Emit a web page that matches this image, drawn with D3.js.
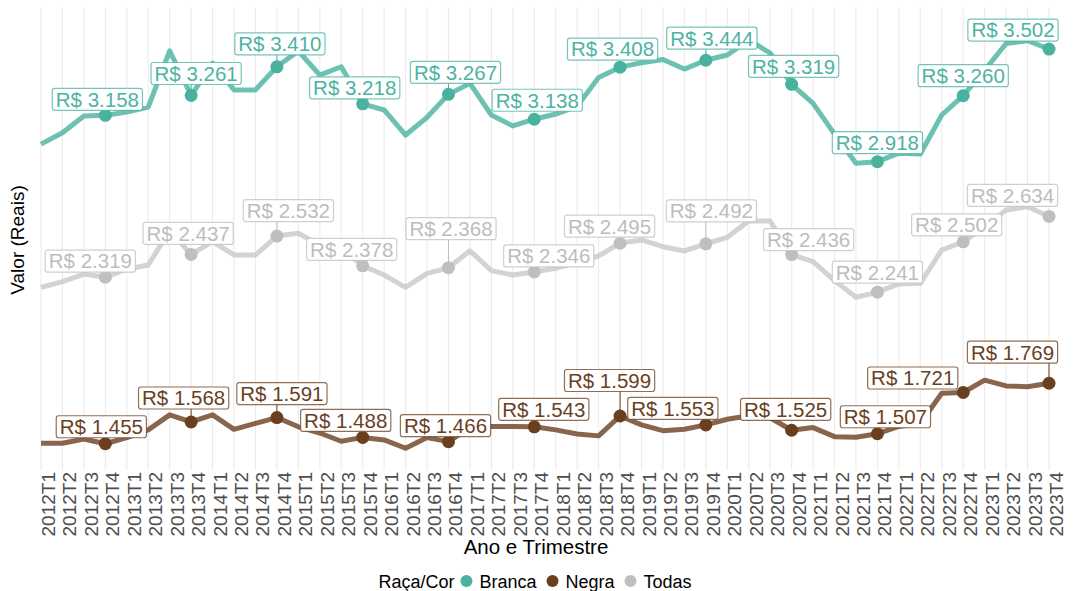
<!DOCTYPE html>
<html>
<head>
<meta charset="utf-8">
<script src="https://cdn.jsdelivr.net/npm/d3@7"></script>
<style>
  body { margin: 0; background: #fff; }
  svg { font-family: "Liberation Sans", Arial, sans-serif; display: block; }
</style>
</head>
<body>
<div id="chart"></div>
<script>
// quarters on the x axis
const quarters = [
  "2012T1","2012T2","2012T3","2012T4","2013T1","2013T2","2013T3","2013T4",
  "2014T1","2014T2","2014T3","2014T4","2015T1","2015T2","2015T3","2015T4",
  "2016T1","2016T2","2016T3","2016T4","2017T1","2017T2","2017T3","2017T4",
  "2018T1","2018T2","2018T3","2018T4","2019T1","2019T2","2019T3","2019T4",
  "2020T1","2020T2","2020T3","2020T4","2021T1","2021T2","2021T3","2021T4",
  "2022T1","2022T2","2022T3","2022T4","2023T1","2023T2","2023T3","2023T4"
]

// rendimento medio (R$) por raça/cor
const branca = [
  3009, 3068, 3155, 3158, 3175, 3201, 3493, 3261,
  3429, 3290, 3290, 3410, 3492, 3367, 3410, 3218,
  3186, 3056, 3148, 3267, 3324, 3160, 3103, 3138,
  3165, 3205, 3355, 3408, 3431, 3448, 3398, 3444,
  3471, 3549, 3481, 3319, 3220, 3061, 2910, 2918,
  2962, 2958, 3160, 3260, 3392, 3531, 3545, 3502
]
const negra = [
  1458, 1458, 1480, 1455, 1487, 1527, 1605, 1568,
  1605, 1530, 1561, 1591, 1543, 1511, 1468, 1488,
  1475, 1432, 1487, 1466, 1540, 1544, 1544, 1543,
  1527, 1506, 1496, 1599, 1553, 1523, 1530, 1553,
  1582, 1600, 1590, 1525, 1539, 1492, 1489, 1507,
  1545, 1560, 1717, 1721, 1785, 1755, 1751, 1769
]
const todas = [
  2266, 2296, 2335, 2319, 2360, 2382, 2560, 2437,
  2503, 2434, 2434, 2532, 2547, 2485, 2470, 2378,
  2330, 2266, 2339, 2368, 2456, 2353, 2330, 2346,
  2365, 2395, 2429, 2495, 2512, 2477, 2455, 2492,
  2526, 2610, 2610, 2436, 2399, 2301, 2215, 2241,
  2284, 2287, 2460, 2502, 2580, 2667, 2684, 2634
]

// quarters that get a point + label (T4 of each year)
const labelled = ["2012T4","2013T4","2014T4","2015T4","2016T4","2017T4",
                  "2018T4","2019T4","2020T4","2021T4","2022T4","2023T4"]

const groups = ["Branca", "Negra", "Todas"]

// label placement (pixel offsets from the point), like the repel result
const offBranca = [[-8,-16],[5,-22],[3,-23],[-8,-16],[7,-22],[3,-19],[-7.5,-18],[6,-22],[2,-18],[0,-19],[0,-20],[-36,-19]]
const offNegra  = [[-4,-17],[-7.5,-24],[5,-24],[-17,-17],[-3,-16],[9.5,-17.5],[-10.5,-35.5],[-33,-16.5],[-6,-21],[8,-17],[-50.5,-14.5],[-36.5,-31]]
const offTodas  = [[-15,-16],[-3,-21],[11.5,-25.5],[-11,-16.5],[2.5,-39],[14.5,-16],[-10.5,-17],[5.5,-33],[17,-15],[0,-20],[-6.5,-17],[-36.5,-21]]

const series = [
  {name: "Branca", values: branca, color: "#48B29F", line: "#48B29F", text: "#4DB3A2", off: offBranca},
  {name: "Negra",  values: negra,  color: "#6A3F1F", line: "#6A3F1F", text: "#6A3F1F", off: offNegra},
  {name: "Todas",  values: todas,  color: "#BFBFBF", line: "#C8C8C8", text: "#BDBDBD", off: offTodas}
]

const width = 1076, height = 591
const panel = {top: 7, bottom: 470}

const svg = d3.select("#chart").append("svg")
  .attr("width", width)
  .attr("height", height)

svg.append("rect").attr("width", width).attr("height", height).attr("fill", "#fff")

const x = d3.scalePoint()
  .domain(quarters)
  .range([41, 1049])

const y = d3.scaleLinear()
  .domain([1319, 3720])
  .range([panel.bottom, panel.top])

const brl = d3.formatLocale({decimal: ",", thousands: ".", grouping: [3], currency: ["R$ ", ""]})
const fmt = brl.format("$,.0f")

// vertical grid
svg.append("g").selectAll("line")
  .data(quarters)
  .join("line")
  .attr("x1", d => x(d)).attr("x2", d => x(d))
  .attr("y1", panel.top).attr("y2", panel.bottom)
  .attr("stroke", "#EBEBEB")
  .attr("stroke-width", 1.1)

// x axis (labels only)
const xAxis = svg.append("g")
  .attr("transform", `translate(0,${panel.bottom})`)
  .call(d3.axisBottom(x).tickSize(0).tickPadding(0))
xAxis.select(".domain").remove()
xAxis.selectAll("text")
  .attr("transform", "rotate(-90)")
  .attr("x", -2)
  .attr("y", 13.5)
  .attr("dy", 0)
  .style("text-anchor", "end")
  .attr("font-size", 19)
  .attr("fill", "#4D4D4D")
  .attr("font-family", "Liberation Sans, Arial, sans-serif")

// axis titles
svg.append("text")
  .attr("x", 536).attr("y", 554)
  .attr("text-anchor", "middle")
  .attr("font-size", 20.5)
  .text("Ano e Trimestre")

svg.append("text")
  .attr("transform", "translate(24,240) rotate(-90)")
  .attr("text-anchor", "middle")
  .attr("font-size", 19)
  .text("Valor (Reais)")

const line = d3.line()
  .x((d, i) => x(quarters[i]))
  .y(d => y(d))

// lines
series.forEach(s => {
  svg.append("path")
    .datum(s.values)
    .attr("fill", "none")
    .attr("stroke", s.line)
    .attr("stroke-opacity", 0.8)
    .attr("stroke-width", 5)
    .attr("stroke-linejoin", "round")
    .attr("d", line)
})

// points
series.forEach(s => {
  svg.append("g").selectAll("circle")
    .data(labelled)
    .join("circle")
    .attr("cx", q => x(q))
    .attr("cy", q => y(s.values[quarters.indexOf(q)]))
    .attr("r", 6.5)
    .attr("fill", s.color)
})

// labels with leader segments
series.forEach(s => {
  const g = svg.append("g")
  labelled.forEach((q, k) => {
    const v = s.values[quarters.indexOf(q)]
    const px = x(q), py = y(v)
    const cx = px + s.off[k][0], cy = py + s.off[k][1]

    const lab = g.append("g")
    const t = lab.append("text")
      .attr("x", cx).attr("y", cy + 7.3)
      .attr("text-anchor", "middle")
      .attr("font-size", 20.5)
      .attr("fill", s.text)
      .text(fmt(v))
    const w = t.node().getComputedTextLength() + 7, h = 22
    const left = cx - w / 2, top = cy - h / 2

    // segment from point to nearest edge of the box
    const ex = Math.max(left, Math.min(px, left + w))
    const ey = Math.max(top, Math.min(py, top + h))
    const len = Math.hypot(ex - px, ey - py)
    if (len > 10) {
      g.insert("line", ":first-child")
        .attr("x1", px).attr("y1", py)
        .attr("x2", ex).attr("y2", ey)
        .attr("stroke", s.color)
        .attr("stroke-width", 1)
    }

    lab.insert("rect", "text")
      .attr("x", left).attr("y", top)
      .attr("width", w).attr("height", h)
      .attr("rx", 2.5)
      .attr("fill", "#fff")
      .attr("stroke", s.color)
      .attr("stroke-opacity", 0.75)
      .attr("stroke-width", 1.2)
  })
})

// legend
const legend = svg.append("g")
const ly = 581
let lx = 0
const title = legend.append("text")
  .attr("x", lx).attr("y", ly + 6.5)
  .attr("font-size", 18)
  .text("Raça/Cor")
lx += title.node().getComputedTextLength() + 12
series.forEach(s => {
  legend.append("circle")
    .attr("cx", lx).attr("cy", ly).attr("r", 6)
    .attr("fill", s.color)
  const t = legend.append("text")
    .attr("x", lx + 13).attr("y", ly + 6.5)
    .attr("font-size", 18)
    .text(s.name)
  lx += 13 + t.node().getComputedTextLength() + 16
})
const lw = lx - 16
legend.attr("transform", `translate(${535 - lw / 2},0)`)
</script>
</body>
</html>
